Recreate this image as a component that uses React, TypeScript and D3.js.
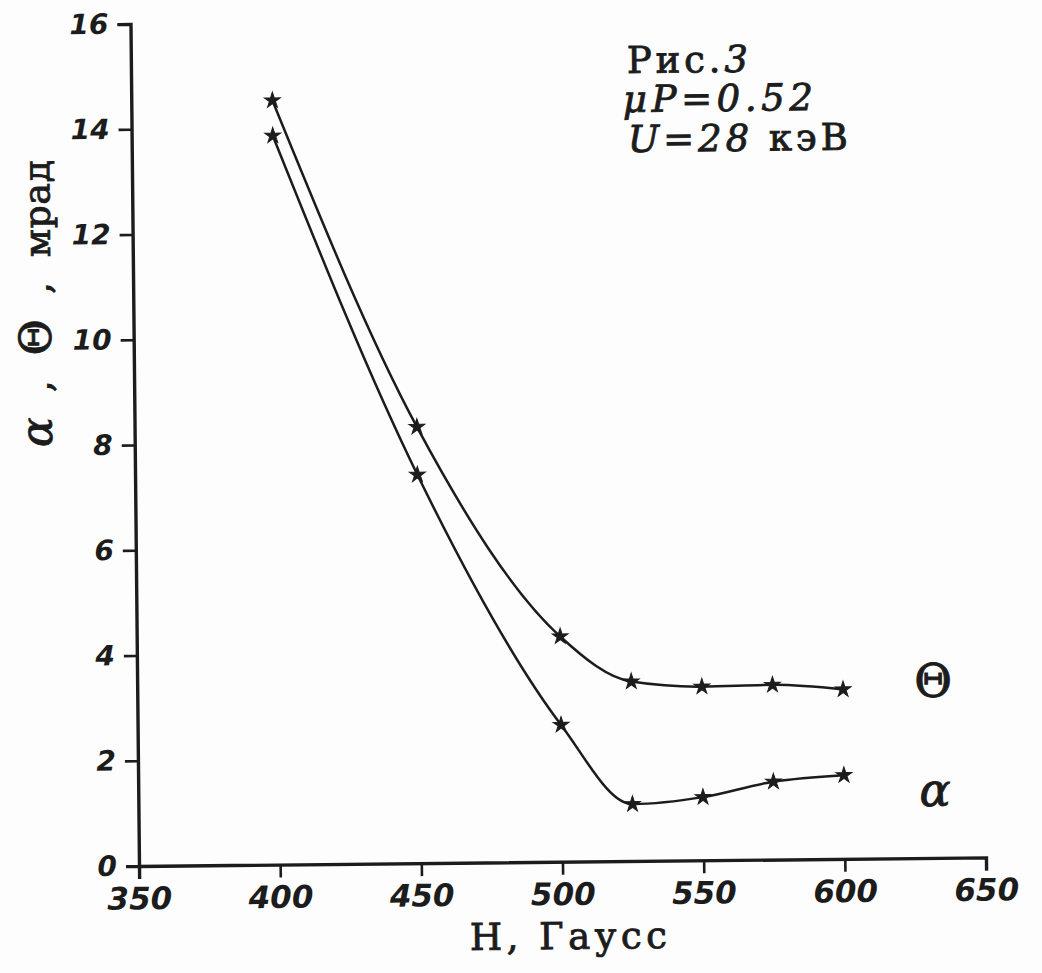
import React, { useEffect, useRef } from "react";
import * as d3 from "d3";

// Magnetic field H (Gauss) and the two measured angles (mrad)
const fieldH = [400, 450, 500, 525, 550, 575, 600];
const thetaMrad = [14.52, 8.29, 4.28, 3.41, 3.3, 3.32, 3.22];
const alphaMrad = [13.85, 7.38, 2.6, 1.08, 1.2, 1.48, 1.59];
const xTicks = [350, 400, 450, 500, 550, 600, 650];
const yTicks = [0, 2, 4, 6, 8, 10, 12, 14, 16];

const W = 1042;
const H = 973;
const ORIGIN = { x: 139, y: 866 };
const TILT = -0.58;
const INK = "#1c1c1c";
const TYPE = "'DejaVu Serif', 'Liberation Serif', serif";
const NUM = "'DejaVu Sans', sans-serif";

type Pt = [number, number];

export default function App() {
  const xAxisRef = useRef<SVGGElement>(null);
  const yAxisRef = useRef<SVGGElement>(null);

  const x = d3.scaleLinear().domain([350, 650]).range([0, 847]);
  const y = d3.scaleLinear().domain([0, 16]).range([0, -842]);

  const line = d3
    .line<Pt>()
    .x((d) => x(d[0]))
    .y((d) => y(d[1]))
    .curve(d3.curveMonotoneX);

  const theta: Pt[] = fieldH.map((h, i) => [h, thetaMrad[i]]);
  const alpha: Pt[] = fieldH.map((h, i) => [h, alphaMrad[i]]);
  const star = d3.symbol().type(d3.symbolStar).size(78)();

  useEffect(() => {
    const gx = d3.select(xAxisRef.current!);
    gx.call(
      d3
        .axisBottom(x)
        .tickValues(xTicks)
        .tickSize(13)
        .tickPadding(8)
        .tickFormat(d3.format("d"))
    );
    gx.attr("font-size", null).attr("font-family", null);
    gx.select(".domain").attr("stroke", INK).attr("stroke-width", 3.4);
    gx.selectAll(".tick line").attr("stroke", INK).attr("stroke-width", 2.6);
    gx.selectAll(".tick text")
      .attr("fill", INK)
      .attr("font-family", NUM)
      .attr("font-weight", "bold")
      .attr("font-style", "italic")
      .attr("font-size", 31)
      .attr("dy", "0.72em");

    const gy = d3.select(yAxisRef.current!);
    gy.call(
      d3
        .axisLeft(y)
        .tickValues(yTicks)
        .tickSize(13)
        .tickPadding(9)
        .tickFormat(d3.format("d"))
    );
    gy.attr("font-size", null).attr("font-family", null);
    gy.select(".domain").attr("stroke", INK).attr("stroke-width", 3.4);
    gy.selectAll(".tick line").attr("stroke", INK).attr("stroke-width", 2.6);
    gy.selectAll(".tick text")
      .attr("fill", INK)
      .attr("font-family", NUM)
      .attr("font-weight", "bold")
      .attr("font-style", "italic")
      .attr("font-size", 28);
  }, []);

  const tilt = (px: number, py: number) => `rotate(${TILT} ${px} ${py})`;
  const ink = { fill: INK, stroke: INK, strokeWidth: 0.9 } as const;

  return (
    <div style={{ position: "absolute", left: 0, top: 0 }}>
      <svg width={W} height={H} viewBox={`0 0 ${W} ${H}`} style={{ display: "block", background: "#fdfdfd" }}>
        <g transform={`translate(${ORIGIN.x},${ORIGIN.y}) rotate(${TILT})`}>
          <g ref={xAxisRef} />
          <g ref={yAxisRef} />
          <path d={line(theta) ?? ""} fill="none" stroke={INK} strokeWidth={2.5} />
          <path d={line(alpha) ?? ""} fill="none" stroke={INK} strokeWidth={2.5} />
          {theta.map((d, i) => (
            <path key={`t${i}`} d={star ?? ""} transform={`translate(${x(d[0])},${y(d[1])})`} fill={INK} stroke={INK} strokeWidth={1} />
          ))}
          {alpha.map((d, i) => (
            <path key={`a${i}`} d={star ?? ""} transform={`translate(${x(d[0])},${y(d[1])})`} fill={INK} stroke={INK} strokeWidth={1} />
          ))}
        </g>

        {/* axis titles */}
        <text
          x={470}
          y={950}
          fontFamily={TYPE}
          fontSize={37}
          {...ink}
          textLength={197}
          lengthAdjust="spacing"
          transform={tilt(470, 950)}
        >
          H, Гаусс
        </text>
        <text
          x={0}
          y={0}
          {...ink}
          style={{ whiteSpace: "pre" }}
          textLength={287}
          lengthAdjust="spacing"
          transform={`translate(52,447) rotate(${-90 + TILT})`}
        >
          <tspan fontFamily={TYPE} fontStyle="italic" fontSize={44}>α</tspan>
          <tspan fontFamily={TYPE} fontSize={36}>{"  ,  "}</tspan>
          <tspan fontFamily={TYPE} fontSize={44}>Θ</tspan>
          <tspan fontFamily={TYPE} fontSize={36}>{"  ,  мрад"}</tspan>
        </text>

        {/* curve labels */}
        <text x={933} y={697} textAnchor="middle" fontFamily={TYPE} fontSize={46} {...ink}>
          Θ
        </text>
        <text x={935} y={806} textAnchor="middle" fontFamily={TYPE} fontStyle="italic" fontSize={46} {...ink}>
          α
        </text>

        {/* figure caption */}
        <g fontFamily={TYPE} fontSize={37} {...ink}>
          <text x={627} y={73} textLength={121} lengthAdjust="spacing" transform={tilt(627, 73)}>
            Рис.<tspan fontStyle="italic">3</tspan>
          </text>
          <text x={623} y={112} fontStyle="italic" textLength={190} lengthAdjust="spacing" transform={tilt(623, 112)}>
            μP=0.52
          </text>
          <text x={628} y={152} textLength={220} lengthAdjust="spacing" transform={tilt(628, 152)}>
            <tspan fontStyle="italic">U=28</tspan> кэВ
          </text>
        </g>
      </svg>
    </div>
  );
}
